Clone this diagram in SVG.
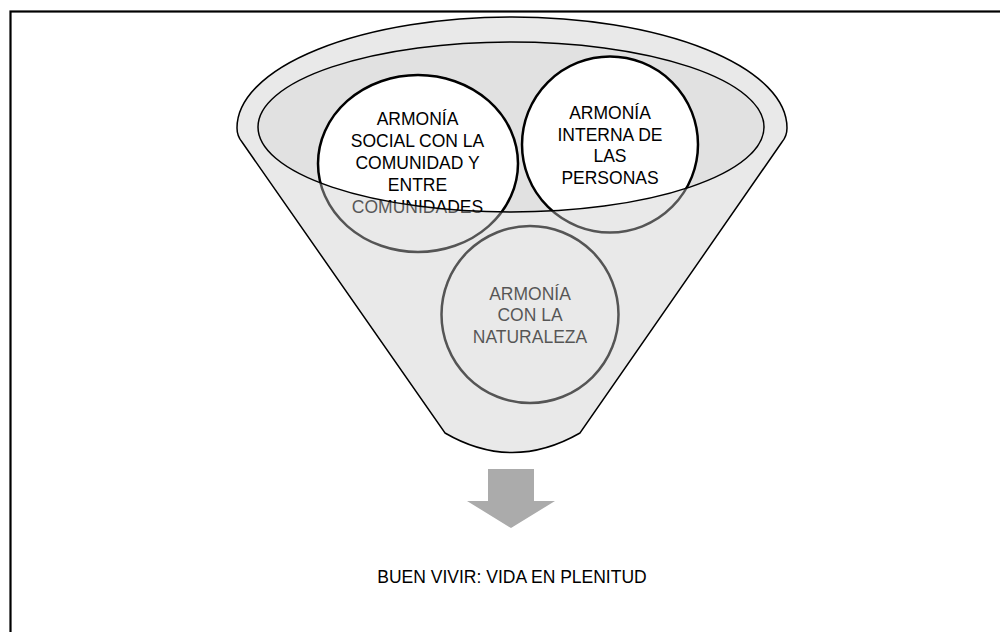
<svg xmlns="http://www.w3.org/2000/svg" width="1000" height="632" viewBox="0 0 1000 632">
<style>
.t{font-family:"Liberation Sans",Arial,sans-serif;font-size:17.5px;text-anchor:middle;fill:#000}
.c{fill:#fff;stroke:#000;stroke-width:2.5}
.ln{fill:none;stroke:#000;stroke-width:1.5}
</style>
<rect x="10.5" y="11.5" width="1000" height="700" fill="#fff" stroke="#000" stroke-width="2.2"/>
<g id="funnel-back">
<ellipse cx="511" cy="127" rx="253" ry="85" fill="#e1e1e1"/>
</g>
<g id="node-social">
<ellipse class="c" cx="418" cy="163.5" rx="100" ry="88.5"/>
<text class="t" x="417.5"><tspan x="417.5" y="125">ARMONÍA</tspan><tspan x="417.5" y="147">SOCIAL CON LA</tspan><tspan x="417.5" y="169">COMUNIDAD Y</tspan><tspan x="417.5" y="191">ENTRE</tspan><tspan x="417.5" y="213">COMUNIDADES</tspan></text>
</g>
<g id="node-interna">
<circle class="c" cx="610" cy="144.5" r="88"/>
<text class="t"><tspan x="610" y="119">ARMONÍA</tspan><tspan x="610" y="140.5">INTERNA DE</tspan><tspan x="610" y="162">LAS</tspan><tspan x="610" y="183.5">PERSONAS</tspan></text>
</g>
<g id="node-naturaleza">
<circle class="c" cx="530" cy="314.5" r="88.5"/>
<text class="t"><tspan x="530" y="300">ARMONÍA</tspan><tspan x="530" y="321">CON LA</tspan><tspan x="530" y="342.5">NATURALEZA</tspan></text>
</g>
<g id="funnel-front">
<path d="M237,128 A275,111 0 0 1 787,128 Q787,136 782,142 L580,433 Q512,472 445,433 L242,142 Q237,136 237,128 Z M258,127 A253,85 0 0 0 764,127 A253,85 0 0 0 258,127 Z" fill="#cacaca" fill-opacity="0.42" fill-rule="evenodd"/>
<path class="ln" d="M237,128 A275,111 0 0 1 787,128 Q787,136 782,142 L580,433 Q512,472 445,433 L242,142 Q237,136 237,128 Z"/>
<ellipse class="ln" cx="511" cy="127" rx="253" ry="85"/>
</g>
<g id="connectors">
<path d="M488,469 H534 V501 H555 L511,528 L467,501 H488 Z" fill="#ababab"/>
</g>
<g id="node-result">
<text class="t" x="512" y="583" font-size="17" fill="#111">BUEN VIVIR: VIDA EN PLENITUD</text>
</g>
</svg>
